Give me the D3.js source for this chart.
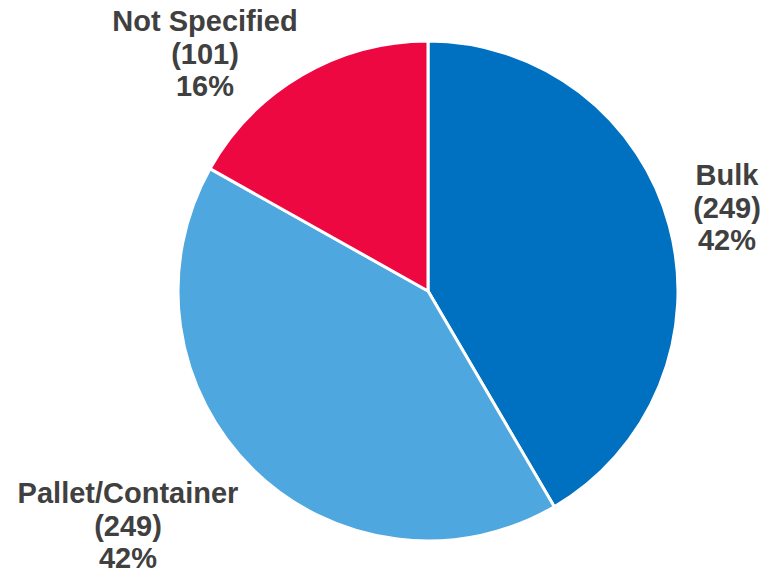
<!DOCTYPE html>
<html>
<head>
<meta charset="utf-8">
<script src="https://cdn.jsdelivr.net/npm/d3@7"></script>
<style>
  html, body { margin: 0; padding: 0; background: #fff; }
  svg { display: block; }
  text { font-family: "Liberation Sans", Arial, sans-serif; font-weight: bold; fill: #404040; }
</style>
</head>
<body>
<svg id="chart" width="764" height="574"></svg>
<script>
// Shipment packaging breakdown
const categories = ["Bulk", "Pallet/Container", "Not Specified"];
const counts = [249, 249, 101];
const percentLabels = ["42%", "42%", "16%"];
const colors = ["#0070C0", "#4FA7E0", "#EE0842"];
// label anchor points (centre of each text block, first line baseline)
const labelPos = [[727, 185], [128, 503], [205, 31]];

const cx = 428, cy = 291, radius = 250;

const svg = d3.select("#chart");
const g = svg.append("g").attr("transform", `translate(${cx},${cy})`);

const pie = d3.pie().sort(null).value(d => d.value);
const arcs = pie(categories.map((c, i) => ({
  name: c, value: counts[i], pct: percentLabels[i], color: colors[i]
})));
const arc = d3.arc().innerRadius(0).outerRadius(radius);

g.selectAll("path")
  .data(arcs)
  .join("path")
  .attr("d", arc)
  .attr("fill", d => d.data.color)
  .attr("stroke", "#fff")
  .attr("stroke-width", 3)
  .attr("stroke-linejoin", "round");

const labels = svg.selectAll("text.lbl")
  .data(arcs)
  .join("text")
  .attr("class", "lbl")
  .attr("text-anchor", "middle")
  .attr("font-size", 29);

labels.each(function(d, i) {
  const t = d3.select(this);
  const [x, y] = labelPos[i];
  const lines = [d.data.name, `(${d.data.value})`, d.data.pct];
  lines.forEach((s, k) => {
    t.append("tspan").attr("x", x).attr("y", y + k * 32.5).text(s);
  });
});
</script>
</body>
</html>
